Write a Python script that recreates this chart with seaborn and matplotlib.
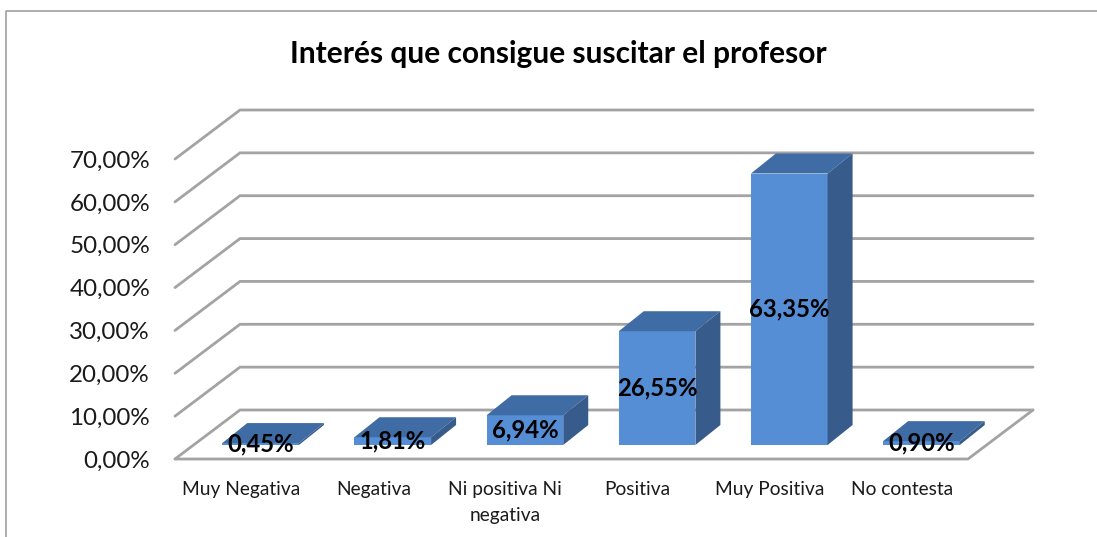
import matplotlib
matplotlib.use('Agg')
import matplotlib.pyplot as plt
import seaborn as sns

categorias = ['Muy Negativa', 'Negativa', 'Ni positiva Ni\nnegativa', 'Positiva', 'Muy Positiva', 'No contesta']
valores = [0.45, 1.81, 6.94, 26.55, 63.35, 0.90]
ticks_y = [0, 10, 20, 30, 40, 50, 60, 70]

W, H = 1097, 537
sns.set_theme(style='white')
plt.rcParams['font.family'] = ['Lato', 'DejaVu Sans']

fig = plt.figure(figsize=(W / 100, H / 100), dpi=100)

# main axes = front plane of the fake 3D box
ax = fig.add_axes([175 / W, (H - 459) / H, 793 / W, 300 / H])
ax.set_xlim(-0.5, 5.5)
ax.set_ylim(0, 70)
ax.patch.set_alpha(0)
sns.despine(ax=ax, left=True, bottom=True)

# px per data unit
px_x = 793 / 6
px_y = 300 / 70
fondo_x = 65 / px_x
fondo_y = 49 / px_y
gris = '#A3A3A3'

for v in ticks_y:
    ax.plot([-0.5, -0.5 + fondo_x, 5.5 + fondo_x], [v, v + fondo_y, v + fondo_y],
            color=gris, lw=2, clip_on=False, solid_joinstyle='miter')
ax.plot([-0.5, 5.5, 5.5 + fondo_x], [0, 0, fondo_y], color=gris, lw=2, clip_on=False)

ax.set_xticks(range(6))
ax.set_xticklabels(categorias, fontsize=13.8, color='#1a1a1a', linespacing=1.6)
ax.set_yticks(ticks_y)
ax.set_yticklabels([f'{v},00%' for v in ticks_y], fontsize=17.4, color='#1a1a1a')
ax.tick_params(axis='x', length=0, pad=16)
ax.tick_params(axis='y', length=0, pad=18)
for t in ax.get_xticklabels():
    t.set_verticalalignment('top')

# bars sit in the middle of the depth, second axes shifted inside the box
ax_b = fig.add_axes([194.5 / W, (H - 445) / H, 793 / W, 300 / H])
ax_b.patch.set_alpha(0)
sns.barplot(x=list(range(6)), y=valores, ax=ax_b, color='#558ED5', saturation=1, width=0.58,
            native_scale=True, linewidth=0, edgecolor='#558ED5')
ax_b.set_xlim(-0.5, 5.5)
ax_b.set_ylim(0, 70)
ax_b.axis('off')

prof_x = 25 / px_x
prof_y = 20 / px_y
for p in ax_b.patches:
    x0 = p.get_x()
    x1 = x0 + p.get_width()
    h = p.get_height()
    ax_b.fill([x0, x1, x1 + prof_x, x0 + prof_x], [h, h, h + prof_y, h + prof_y],
              color='#3F6CA4', lw=0, clip_on=False)
    ax_b.fill([x1, x1 + prof_x, x1 + prof_x, x1], [0, prof_y, h + prof_y, h],
              color='#375B8B', lw=0, clip_on=False)
    p.set_clip_on(False)

ax_b.bar_label(ax_b.containers[0], labels=[f'{v:.2f}%'.replace('.', ',') for v in valores],
               label_type='center', fontsize=17.2, fontweight='bold', color='black', zorder=10)

fig.text(558 / W, (H - 54) / H, 'Interés que consigue suscitar el profesor',
         ha='center', va='center', fontsize=21.5, fontweight='bold', color='black')

# outer chart frame, only top and left are in view
fig.add_artist(plt.Line2D([6 / W, 6 / W, 1], [0, (H - 10.5) / H, (H - 10.5) / H], color='#A0A0A0', lw=1.2))

fig.savefig('out.png', dpi=100, facecolor='white')
